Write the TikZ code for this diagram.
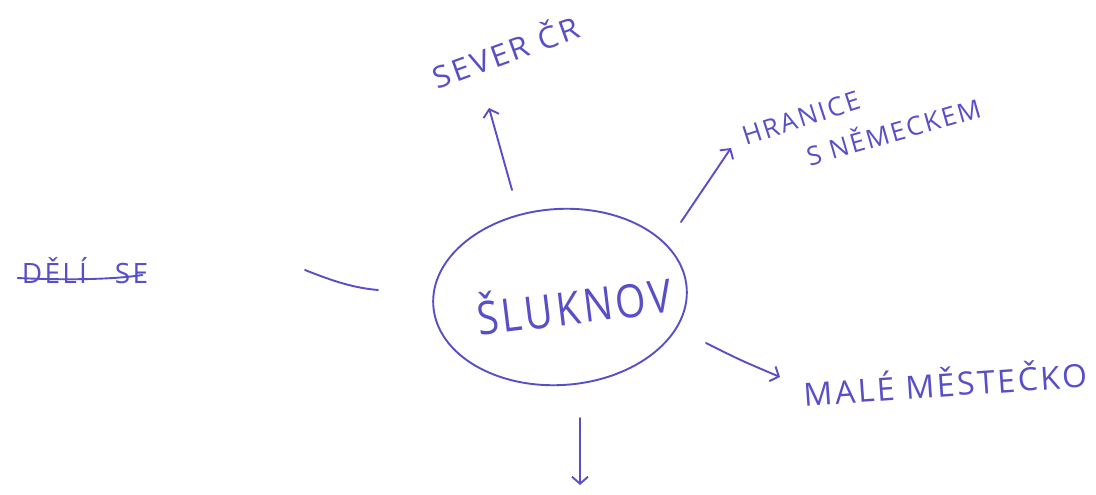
\documentclass[tikz,border=0pt]{standalone}
\usepackage{fontspec}
\setmainfont{Open Sans}[LetterSpace=8]
\usetikzlibrary{arrows.meta,shapes.geometric}
\definecolor{ink}{RGB}{88,78,200}
\tikzset{
  pen/.style={draw=ink, line width=1.9pt, line cap=round, line join=round},
  hand/.style={text=ink, inner sep=0pt, font=\fontsize{#1}{#1}\selectfont},
  hand/.default=28,
  arr/.style={pen, -{Straight Barb[length=7pt,width=16pt,line width=1.9pt]}},
}
\begin{document}
\begin{tikzpicture}[x=1pt,y=-1pt]
\path[use as bounding box] (0,0) rectangle (1096,495);

% centre
\node[pen, ellipse, minimum width=254pt, minimum height=176pt, rotate=4] (slu) at (560,297) {};
\node[hand=46, rotate=7, xscale=0.85] (slut) at (574,303) {ŠLUKNOV};

% labels
\node[hand=30, rotate=20, xscale=1.05] (sever) at (505,50) {SEVER ČR};
\node[hand=26, rotate=18] (hran) at (801,118) {HRANICE};
\node[hand=26, rotate=16] (nem) at (893,130) {S NĚMECKEM};
\node[hand=32, rotate=4] (male) at (945,382) {MALÉ MĚSTEČKO};
\node[hand=28] (deli) at (85,271) {DĚLÍ\hspace{28pt}SE};
\draw[pen] ([xshift=-4pt,yshift=-7pt]deli.west) .. controls (60,280) and (110,280) .. ([xshift=-6pt,yshift=-4pt]deli.east);

% connector end points
\coordinate (u1) at (512,190); \coordinate (u2) at (489,108);
\coordinate (r1) at (681,222); \coordinate (r2) at (731,148);
\coordinate (m1) at (706,343); \coordinate (m2) at (780,377);
\coordinate (d1) at (580,418); \coordinate (d2) at (580,485);
\coordinate (l1) at (305,270); \coordinate (l2) at (378,290);

\draw[arr] (u1) -- (u2);
\draw[arr] (r1) -- (r2);
\draw[arr] (m1) .. controls (740,360) .. (m2);
\draw[arr] (d1) -- (d2);
\draw[pen] (l1) .. controls (335,282) and (355,288) .. (l2);
\end{tikzpicture}
\end{document}
